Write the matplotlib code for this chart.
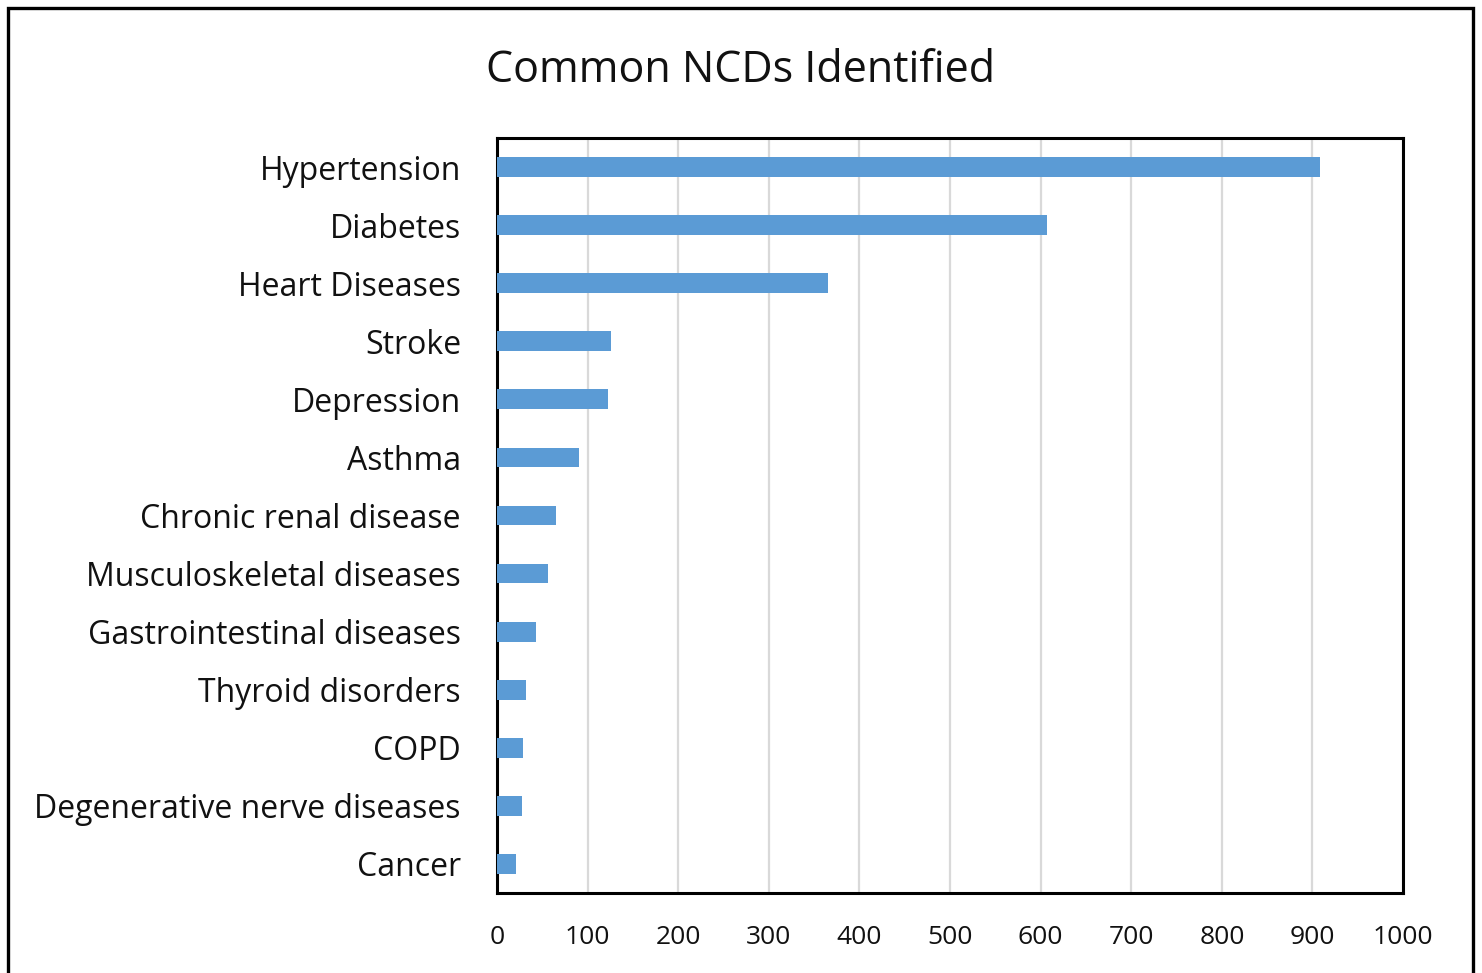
import matplotlib
matplotlib.use("Agg")
import matplotlib.pyplot as plt
from matplotlib.patches import Rectangle

# data
diseases = ['Hypertension', 'Diabetes', 'Heart Diseases', 'Stroke', 'Depression',
            'Asthma', 'Chronic renal disease', 'Musculoskeletal diseases',
            'Gastrointestinal diseases', 'Thyroid disorders', 'COPD',
            'Degenerative nerve diseases', 'Cancer']
counts = [908, 607, 365, 126, 123, 90, 65, 56, 43, 32, 29, 27, 21]
x_ticks = [0, 100, 200, 300, 400, 500, 600, 700, 800, 900, 1000]

plt.rcParams['font.family'] = ['Open Sans', 'DejaVu Sans']

fig = plt.figure(figsize=(14.82, 9.73), dpi=100)
ax = fig.add_axes([0.3354, 0.0822, 0.6113, 0.776])

ypos = list(range(len(diseases)))
ax.barh(ypos, counts, height=0.34, color='#5B9BD5', zorder=3)
ax.set_yticks(ypos)
ax.set_yticklabels(diseases)
ax.set_ylim(len(diseases) - 0.5, -0.5)
ax.set_xlim(0, 1000)
ax.set_xticks(x_ticks)

ax.grid(axis='x', color='#d9d9d9', linewidth=1.6, zorder=0)
ax.tick_params(axis='y', length=0, labelsize=23, colors='#111111', pad=26)
ax.tick_params(axis='x', length=0, labelsize=19, colors='#111111', pad=23)
for s in ax.spines.values():
    s.set_linewidth(2.2)
    s.set_color('black')

fig.text(0.5, 0.927, 'Common NCDs Identified', ha='center', va='center', fontsize=31, color='#111111')

# outer frame around the whole chart (bottom edge runs off the image)
fig.patches.append(Rectangle((0.0055, -0.05), 0.9885, 1.0418, transform=fig.transFigure,
                             fill=False, edgecolor='black', linewidth=2.4, clip_on=False))

fig.savefig('out.png', dpi=100)
